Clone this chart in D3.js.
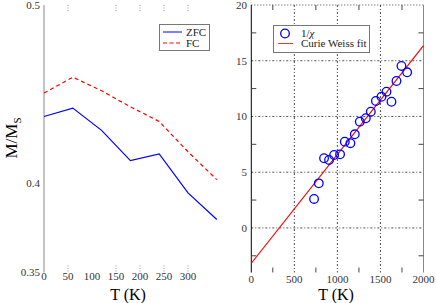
<!DOCTYPE html>
<html><head><meta charset="utf-8">
<script src="https://cdn.jsdelivr.net/npm/d3@7"></script>
<style>body{margin:0;background:#fff}svg{display:block}text{font-family:"Liberation Serif","DejaVu Serif",serif}</style>
</head><body>
<script>
// Left panel data
const tempsMag = [0, 60, 120, 180, 240, 300, 360];
const zfc = [0.4375, 0.4422, 0.4297, 0.4127, 0.4165, 0.3946, 0.3797];
const fc  = [0.4506, 0.4595, 0.4519, 0.4429, 0.4347, 0.4177, 0.4021];
const leftYTicks = [0.5, 0.4, 0.35];
const leftXTicks = [0, 50, 100, 150, 200, 250, 300];
const leftXTickMarks = [50, 150, 200, 250, 300];

// Right panel data
const tempsChi = [729, 784, 845, 903, 962, 1031, 1086, 1151, 1202, 1260, 1330, 1388, 1447, 1512, 1570, 1628, 1686, 1744, 1810];
const invChi   = [2.6, 4.0, 6.25, 6.1, 6.54, 6.6, 7.74, 7.6, 8.4, 9.53, 9.84, 10.43, 11.39, 11.77, 12.22, 11.32, 13.18, 14.53, 13.96];
const fitT = [0, 2000];
const fitV = [-3.17, 16.35];
const rightXTicks = [0, 500, 1000, 1500, 2000];
const rightYTicks = [0, 5, 10, 15, 20];
const rightXMinor = [250, 750, 1250, 1750];
const rightYMinor = [-2.5, 2.5, 7.5, 12.5, 17.5];

const W = 436, H = 303;
const svg = d3.select("body").append("svg").attr("width", W).attr("height", H);

// ---------- Left panel ----------
const lx = d3.scaleLinear().domain([0, 360]).range([44, 216.8]);
const ly = d3.scaleLinear().domain([0.35, 0.5]).range([272.5, 5]);
const L = svg.append("g");

L.append("line").attr("x1", lx(0)).attr("x2", lx(0)).attr("y1", ly(0.5)).attr("y2", ly(0.35))
  .attr("stroke", "#888").attr("stroke-width", 1);
leftXTickMarks.forEach(t => {
  [[ly(0.5), ly(0.5) + 7], [ly(0.35) - 7, ly(0.35)]].forEach(([a, b]) => {
    L.append("line").attr("x1", lx(t)).attr("x2", lx(t)).attr("y1", a).attr("y2", b)
      .attr("stroke", "#999").attr("stroke-dasharray", "1,1.5");
  });
});
leftYTicks.forEach(v => {
  L.append("text").attr("x", 40).attr("y", ly(v)).attr("dy", "0.35em").attr("text-anchor", "end")
    .attr("font-size", 11).attr("fill", "#333").text(v);
});
leftXTicks.forEach(t => {
  L.append("text").attr("x", lx(t)).attr("y", 276).attr("dy", "0.35em").attr("text-anchor", "middle")
    .attr("font-size", 11).attr("fill", "#333").text(t);
});

const lineL = d3.line().x((d, i) => lx(tempsMag[i])).y(d => ly(d));
L.append("path").attr("d", lineL(zfc)).attr("fill", "none").attr("stroke", "#0000ff").attr("stroke-width", 1.2);
L.append("path").attr("d", lineL(fc)).attr("fill", "none").attr("stroke", "#ff0000").attr("stroke-width", 1.2)
  .attr("stroke-dasharray", "4,3");

// legend left
L.append("rect").attr("x", 159.5).attr("y", 24.5).attr("width", 50).attr("height", 26)
  .attr("fill", "#fff").attr("stroke", "#777");
L.append("line").attr("x1", 163).attr("x2", 182).attr("y1", 32).attr("y2", 32).attr("stroke", "#0000ff");
L.append("line").attr("x1", 163).attr("x2", 182).attr("y1", 43).attr("y2", 43).attr("stroke", "#ff0000").attr("stroke-dasharray", "4,2.5");
L.append("text").attr("x", 186).attr("y", 32).attr("dy", "0.35em").attr("font-size", 11).attr("fill", "#222").text("ZFC");
L.append("text").attr("x", 186).attr("y", 43).attr("dy", "0.35em").attr("font-size", 11).attr("fill", "#222").text("FC");

// axis titles left
const yl = L.append("text").attr("transform", "translate(17,138) rotate(-90)").attr("text-anchor", "middle")
  .attr("font-size", 17).attr("fill", "#000");
yl.append("tspan").text("M/M");
yl.append("tspan").attr("font-size", 11).attr("dy", 4).text("S");
L.append("text").attr("x", 128).attr("y", 294.5).attr("dy", "0.35em").attr("text-anchor", "middle")
  .attr("font-size", 16).text("T (K)");

// ---------- Right panel ----------
const rx = d3.scaleLinear().domain([0, 2000]).range([251.3, 423.5]);
const ry = d3.scaleLinear().domain([-4, 20]).range([272.5, 5]);
const R = svg.append("g");

// grid
rightXTicks.slice(1, 4).forEach(t => {
  R.append("line").attr("x1", rx(t)).attr("x2", rx(t)).attr("y1", ry(20)).attr("y2", ry(-4))
    .attr("stroke", "#222").attr("stroke-dasharray", "2,2,1,2").attr("stroke-width", 0.8);
});
rightYTicks.slice(0, 4).forEach(v => {
  R.append("line").attr("x1", rx(0)).attr("x2", rx(2000)).attr("y1", ry(v)).attr("y2", ry(v))
    .attr("stroke", "#222").attr("stroke-dasharray", "2,2,1,2").attr("stroke-width", 0.8);
});
// top dotted border
R.append("line").attr("x1", rx(0)).attr("x2", rx(2000)).attr("y1", ry(20)).attr("y2", ry(20))
  .attr("stroke", "#222").attr("stroke-dasharray", "1,2").attr("stroke-width", 0.8);
// left and right borders
R.append("line").attr("x1", rx(0)).attr("x2", rx(0)).attr("y1", ry(20)).attr("y2", ry(-4)).attr("stroke", "#000");
R.append("line").attr("x1", rx(2000)).attr("x2", rx(2000)).attr("y1", ry(20)).attr("y2", ry(-4)).attr("stroke", "#888");
// minor ticks
rightXMinor.forEach(t => {
  R.append("line").attr("x1", rx(t)).attr("x2", rx(t)).attr("y1", ry(-4)).attr("y2", ry(-4) - 5).attr("stroke", "#444");
  R.append("line").attr("x1", rx(t)).attr("x2", rx(t)).attr("y1", ry(20)).attr("y2", ry(20) + 5).attr("stroke", "#444");
});
rightYMinor.forEach(v => {
  R.append("line").attr("x1", rx(0)).attr("x2", rx(0) + 5).attr("y1", ry(v)).attr("y2", ry(v)).attr("stroke", "#444");
  R.append("line").attr("x1", rx(2000)).attr("x2", rx(2000) - 5).attr("y1", ry(v)).attr("y2", ry(v)).attr("stroke", "#444");
});
rightYTicks.forEach(v => {
  R.append("text").attr("x", 247).attr("y", ry(v)).attr("dy", "0.35em").attr("text-anchor", "end")
    .attr("font-size", 11).attr("fill", "#333").text(v);
});
rightXTicks.forEach(t => {
  R.append("text").attr("x", rx(t)).attr("y", 279).attr("dy", "0.35em").attr("text-anchor", "middle")
    .attr("font-size", 11).attr("fill", "#333").text(t);
});

// fit line
R.append("path").attr("d", d3.line().x((d, i) => rx(fitT[i])).y(d => ry(d))(fitV))
  .attr("fill", "none").attr("stroke", "#ff0000").attr("stroke-width", 1.2);
// data points
R.selectAll("circle.pt").data(invChi).join("circle").attr("class", "pt")
  .attr("cx", (d, i) => rx(tempsChi[i])).attr("cy", d => ry(d)).attr("r", 4.3)
  .attr("fill", "none").attr("stroke", "#0000ff").attr("stroke-width", 1.3);

// legend right
R.append("rect").attr("x", 273.5).attr("y", 25.5).attr("width", 96).attr("height", 27)
  .attr("fill", "#fff").attr("stroke", "#777");
R.append("circle").attr("cx", 285).attr("cy", 33.5).attr("r", 4.3).attr("fill", "none").attr("stroke", "#0000ff").attr("stroke-width", 1.3);
R.append("line").attr("x1", 278).attr("x2", 293).attr("y1", 43.5).attr("y2", 43.5).attr("stroke", "#ff3333").attr("stroke-width", 1);
const chiLbl = R.append("text").attr("x", 301).attr("y", 33).attr("dy", "0.35em").attr("font-size", 11).attr("fill", "#222");
chiLbl.append("tspan").text("1/");
chiLbl.append("tspan").attr("font-style", "italic").text("χ");
R.append("text").attr("x", 301).attr("y", 43.5).attr("dy", "0.35em").attr("font-size", 11).attr("fill", "#222").text("Curie Weiss fit");

R.append("text").attr("x", 336).attr("y", 294.5).attr("dy", "0.35em").attr("text-anchor", "middle")
  .attr("font-size", 16).text("T (K)");
</script>
</body></html>
